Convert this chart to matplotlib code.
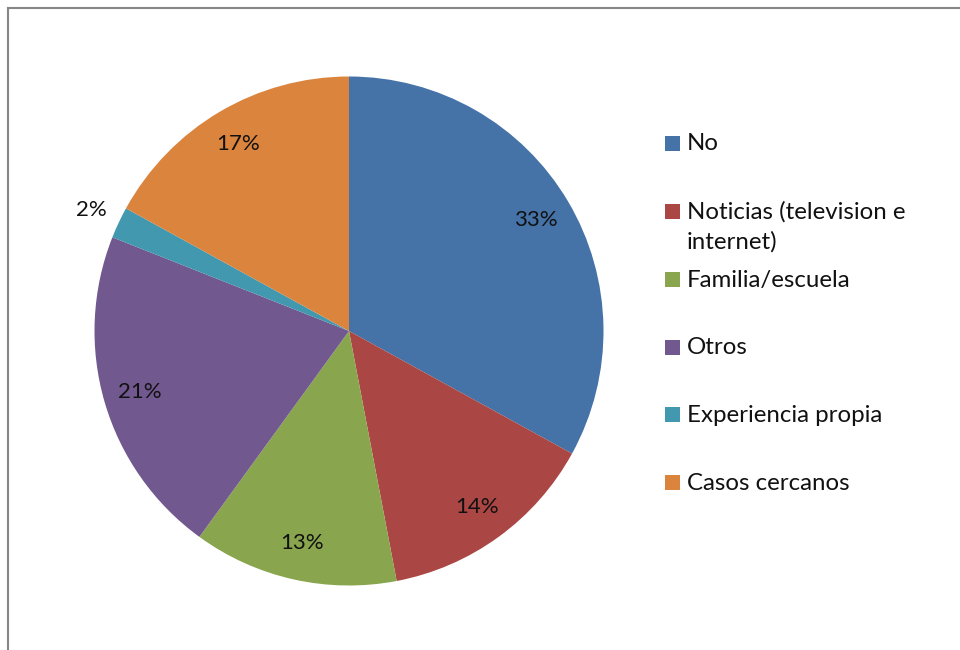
import matplotlib
matplotlib.use("Agg")
import matplotlib.pyplot as plt
from matplotlib.lines import Line2D
from matplotlib.patches import Rectangle
import numpy as np

categories = ["No", "Noticias (television e\ninternet)", "Familia/escuela",
              "Otros", "Experiencia propia", "Casos cercanos"]
values = [33, 14, 13, 21, 2, 17]
colors = ["#4572A7", "#AA4643", "#89A54E", "#71588F", "#4198AF", "#DB843D"]

plt.rcParams['font.family'] = ['Lato', 'DejaVu Sans']

W, H = 960, 650
fig = plt.figure(figsize=(9.6, 6.5), dpi=100)

# chart frame (only left and top edges visible)
fig.add_artist(Line2D([8 / W, 8 / W], [0, 1 - 8 / H], color="#868686", lw=1.5))
fig.add_artist(Line2D([8 / W, 1], [1 - 8 / H, 1 - 8 / H], color="#868686", lw=1.5))

cx, cy, r = 349, 331, 254.5
ax = fig.add_axes([(cx - r) / W, (H - cy - r) / H, 2 * r / W, 2 * r / H])
wedges, _ = ax.pie(values, colors=colors, startangle=90, counterclock=False,
                   radius=1.0, wedgeprops=dict(linewidth=0))
ax.set_xlim(-1, 1)
ax.set_ylim(-1, 1)
ax.set_aspect("equal")
ax.axis("off")

for w, v in zip(wedges, values):
    ang = np.deg2rad((w.theta1 + w.theta2) / 2)
    d = 1.12 if v < 5 else 0.855
    ax.text(d * np.cos(ang), d * np.sin(ang), f"{v}%", ha="center", va="center",
            fontsize=16, color="#111111")

# legend
ys = [144, 212, 280, 348, 415, 483]
for y, lab, c in zip(ys, categories, colors):
    fig.add_artist(Rectangle(((665) / W, 1 - (y + 7) / H), 15 / W, 15 / H,
                             facecolor=c, edgecolor="none"))
    for k, line in enumerate(lab.split("\n")):
        fig.text(687 / W, 1 - (y + 30 * k) / H, line, ha="left", va="center",
                 fontsize=17.3, color="#111111")

fig.savefig("out.png", dpi=100)
